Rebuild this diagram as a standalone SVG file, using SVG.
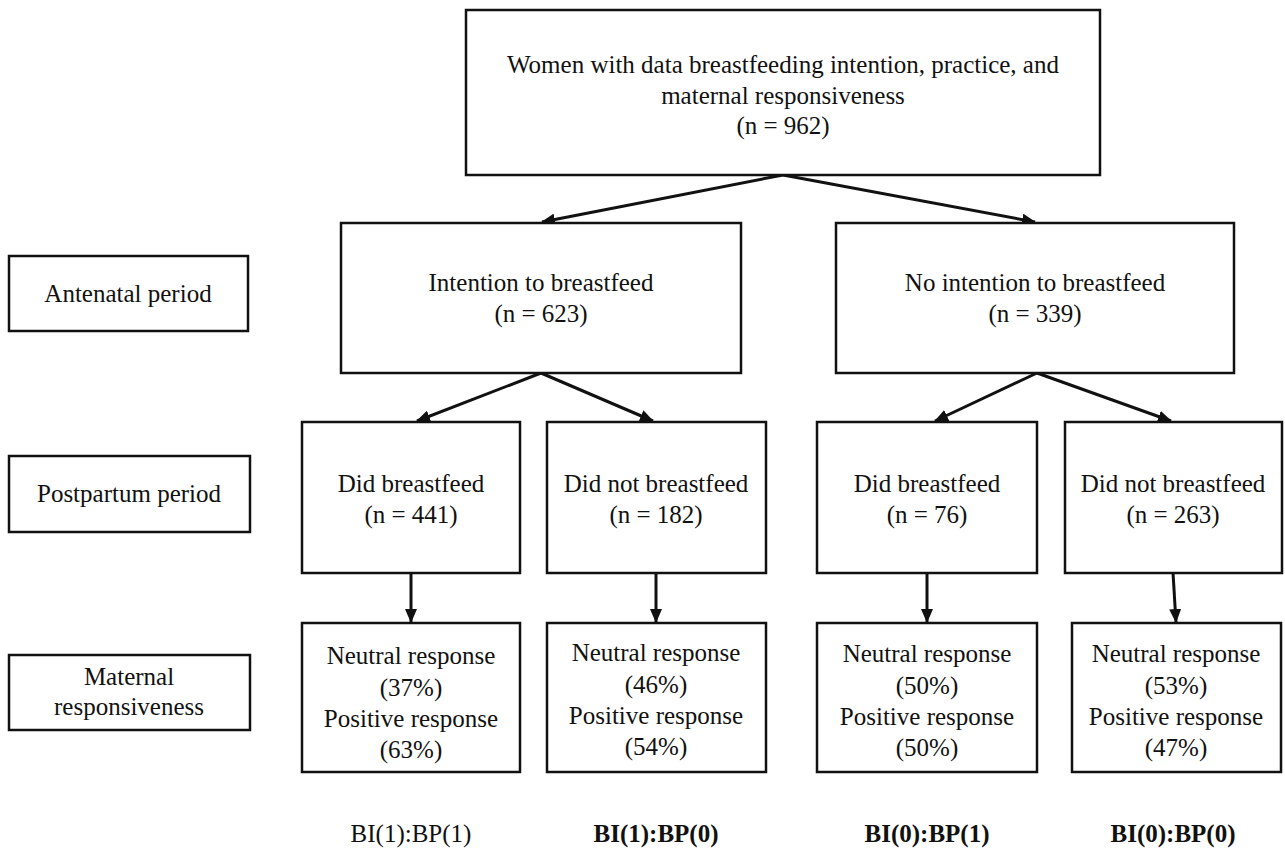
<svg xmlns="http://www.w3.org/2000/svg" width="1285" height="851" viewBox="0 0 1285 851">
<style>
  .box { fill: #ffffff; stroke: #111111; stroke-width: 2.5; }
  .t { font-family: "Liberation Serif", "Times New Roman", serif; font-size: 25px; fill: #111111; text-anchor: middle; }
  .b { font-weight: bold; }
  .edge { stroke: #111111; stroke-width: 3; fill: none; marker-end: url(#arr); }
</style>
<defs>
  <marker id="arr" markerUnits="userSpaceOnUse" markerWidth="14" markerHeight="12" refX="13" refY="6" orient="auto">
    <path d="M0,0 L14,6 L0,12 z" fill="#111111"/>
  </marker>
</defs>
<rect width="1285" height="851" fill="#ffffff"/>

<g id="connectors">
  <line class="edge" x1="783" y1="175" x2="542" y2="222"/>
  <line class="edge" x1="783" y1="175" x2="1035" y2="222"/>
  <line class="edge" x1="541" y1="373" x2="417" y2="421"/>
  <line class="edge" x1="541" y1="373" x2="653" y2="421"/>
  <line class="edge" x1="1037" y1="373" x2="935" y2="421"/>
  <line class="edge" x1="1037" y1="373" x2="1171" y2="421"/>
  <line class="edge" x1="411" y1="573" x2="411" y2="622"/>
  <line class="edge" x1="656" y1="573" x2="656" y2="622"/>
  <line class="edge" x1="927" y1="573" x2="927" y2="622"/>
  <line class="edge" x1="1173" y1="573" x2="1176" y2="622"/>
</g>

<g id="root">
  <rect class="box" x="466" y="10" width="634" height="165"/>
  <text class="t" x="783" y="73">Women with data breastfeeding intention, practice, and</text>
  <text class="t" x="783" y="104">maternal responsiveness</text>
  <text class="t" x="783" y="134">(n = 962)</text>
</g>

<g id="label-antenatal">
  <rect class="box" x="9" y="256" width="239" height="75"/>
  <text class="t" x="128" y="302">Antenatal period</text>
</g>
<g id="label-postpartum">
  <rect class="box" x="9" y="456" width="241" height="76"/>
  <text class="t" x="129" y="502">Postpartum period</text>
</g>
<g id="label-maternal">
  <rect class="box" x="9" y="655" width="241" height="75"/>
  <text class="t" x="129" y="685">Maternal</text>
  <text class="t" x="129" y="715">responsiveness</text>
</g>

<g id="intention">
  <rect class="box" x="341" y="223" width="400" height="150"/>
  <text class="t" x="541" y="291">Intention to breastfeed</text>
  <text class="t" x="541" y="322">(n = 623)</text>
</g>
<g id="no-intention">
  <rect class="box" x="836" y="223" width="398" height="150"/>
  <text class="t" x="1035" y="291">No intention to breastfeed</text>
  <text class="t" x="1035" y="322">(n = 339)</text>
</g>

<g id="bp-1-1">
  <rect class="box" x="302" y="422" width="218" height="151"/>
  <text class="t" x="411" y="492">Did breastfeed</text>
  <text class="t" x="411" y="523">(n = 441)</text>
</g>
<g id="bp-1-0">
  <rect class="box" x="547" y="422" width="219" height="151"/>
  <text class="t" x="656" y="492">Did not breastfeed</text>
  <text class="t" x="656" y="523">(n = 182)</text>
</g>
<g id="bp-0-1">
  <rect class="box" x="817" y="422" width="220" height="151"/>
  <text class="t" x="927" y="492">Did breastfeed</text>
  <text class="t" x="927" y="523">(n = 76)</text>
</g>
<g id="bp-0-0">
  <rect class="box" x="1065" y="422" width="217" height="151"/>
  <text class="t" x="1173" y="492">Did not breastfeed</text>
  <text class="t" x="1173" y="523">(n = 263)</text>
</g>

<g id="mr-1-1">
  <rect class="box" x="302" y="623" width="218" height="149"/>
  <text class="t" x="411" y="664">Neutral response</text>
  <text class="t" x="411" y="696">(37%)</text>
  <text class="t" x="411" y="727">Positive response</text>
  <text class="t" x="411" y="758">(63%)</text>
</g>
<g id="mr-1-0">
  <rect class="box" x="547" y="623" width="219" height="149"/>
  <text class="t" x="656" y="661">Neutral response</text>
  <text class="t" x="656" y="693">(46%)</text>
  <text class="t" x="656" y="724">Positive response</text>
  <text class="t" x="656" y="755">(54%)</text>
</g>
<g id="mr-0-1">
  <rect class="box" x="817" y="623" width="220" height="149"/>
  <text class="t" x="927" y="662">Neutral response</text>
  <text class="t" x="927" y="694">(50%)</text>
  <text class="t" x="927" y="725">Positive response</text>
  <text class="t" x="927" y="756">(50%)</text>
</g>
<g id="mr-0-0">
  <rect class="box" x="1072" y="623" width="209" height="149"/>
  <text class="t" x="1176" y="662">Neutral response</text>
  <text class="t" x="1176" y="694">(53%)</text>
  <text class="t" x="1176" y="725">Positive response</text>
  <text class="t" x="1176" y="756">(47%)</text>
</g>

<g id="group-labels">
  <text class="t" x="411" y="842">BI(1):BP(1)</text>
  <text class="t b" x="656" y="842">BI(1):BP(0)</text>
  <text class="t b" x="927" y="842">BI(0):BP(1)</text>
  <text class="t b" x="1173" y="842">BI(0):BP(0)</text>
</g>
</svg>
